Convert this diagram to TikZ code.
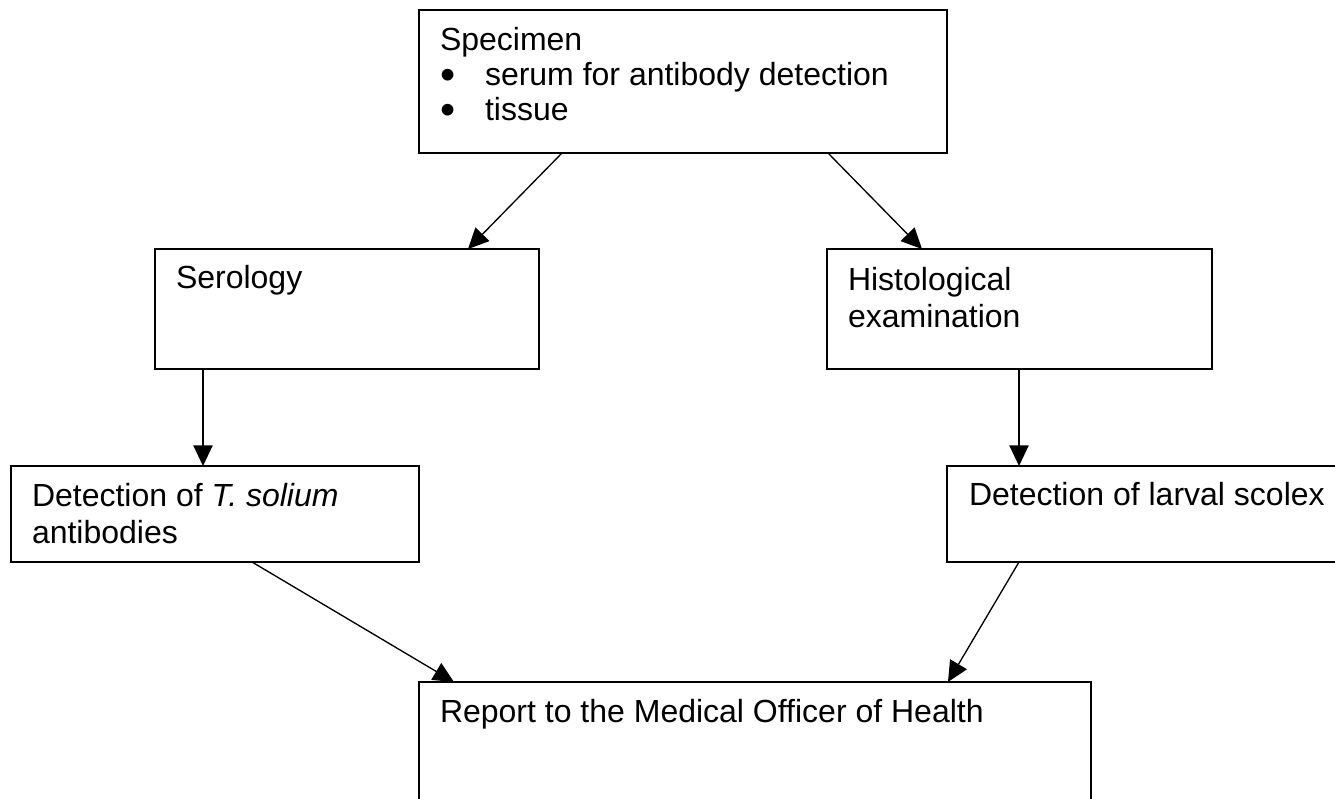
\documentclass[tikz,border=0pt]{standalone}
\usepackage{fontspec}
\usepackage{graphicx}
\setmainfont{Liberation Sans}
\usetikzlibrary{arrows.meta,calc}
\newcommand{\bul}{\hbox to 33.75pt{\smash{\raisebox{-3pt}{\scalebox{1.35}{\textbullet}}}\hfil}}
\begin{document}
\begin{tikzpicture}[x=0.75pt,y=-0.75pt,
  box/.style={draw, line width=1.3pt, inner sep=0pt, outer sep=0pt, anchor=north west},
  txt/.style={anchor=north west, inner sep=0pt, outer sep=0pt, align=left, font=\fontsize{24}{27.75}\selectfont},
  arr/.style={line width=1pt, -{Triangle[length=15.5pt,width=14.5pt]}}]
\useasboundingbox (0,0) rectangle (1335,799);
\clip (0,0) rectangle (1335,799);
% boxes
\node[box, minimum width=396pt, minimum height=107.25pt] (spec) at (419,10) {};
\node[box, minimum width=288pt, minimum height=90pt] (ser) at (155,249) {};
\node[box, minimum width=288.75pt, minimum height=90pt] (hist) at (827,249) {};
\node[box, minimum width=306pt, minimum height=72pt] (detT) at (11,466) {};
\node[box, minimum width=300pt, minimum height=72pt] (detL) at (947,466) {};
\node[box, minimum width=504pt, minimum height=97.5pt] (rep) at (419,682) {};
% texts
\node[txt, font=\fontsize{24}{26.5}\selectfont] (specT) at (440,26) {\rule{0pt}{18pt}Specimen\\ \bul serum for antibody detection\\ \bul tissue};
\node[txt] (serT) at (176,264) {\rule{0pt}{18pt}Serology};
\node[txt] (histT) at (848,266) {\rule{0pt}{18pt}Histological\\examination};
\node[txt] (detTT) at (32,482) {\rule{0pt}{18pt}Detection of \textit{T. solium}\\antibodies};
\node[txt] (detLT) at (969,481) {\rule{0pt}{18pt}Detection of larval scolex};
\node[txt] (repT) at (440,698) {\rule{0pt}{18pt}Report to the Medical Officer of Health};
% connectors
\draw[arr] ($(spec.south west)+(143,0)$) -- ($(ser.north west)+(313,0)$);
\draw[arr] ($(spec.south west)+(409,0)$) -- ($(hist.north west)+(95,0)$);
\draw[arr] ($(ser.south west)+(48,0)$) -- ($(detT.north west)+(192,0)$);
\draw[arr] ($(hist.south west)+(192,0)$) -- ($(detL.north west)+(72,0)$);
\draw[arr] ($(detT.south west)+(241,0)$) -- ($(rep.north west)+(35,0)$);
\draw[arr] ($(detL.south west)+(72,0)$) -- ($(rep.north west)+(529,0)$);
\end{tikzpicture}
\end{document}
